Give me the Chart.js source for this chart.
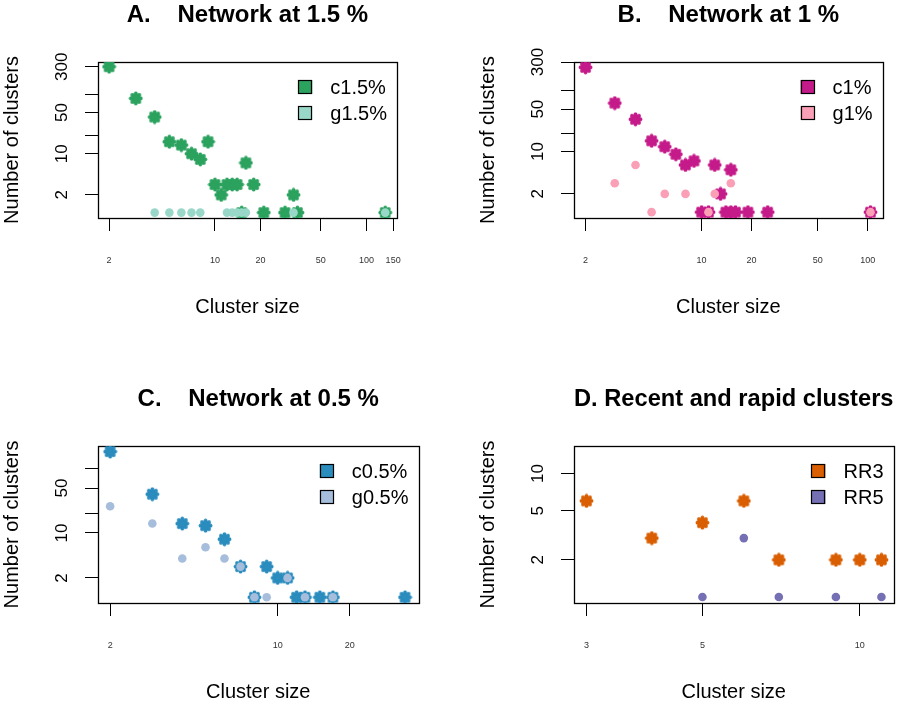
<!DOCTYPE html>
<html><head><meta charset="utf-8">
<script src="https://cdn.jsdelivr.net/npm/chart.js@4.4.0/dist/chart.umd.min.js"></script>
<style>
html,body{margin:0;padding:0;background:#fff;width:900px;height:702px;overflow:hidden;position:relative}
canvas{position:absolute}
</style></head><body>
<script>
// ---------- DATA ----------
const titleA = 'A.    Network at 1.5 %';
const labelsA = ['c1.5%', 'g1.5%'];
const sizesA_c = [2, 3, 4, 5, 6, 7, 8, 9, 10, 11, 12, 13, 14, 15, 16, 18, 21, 29, 33, 35, 133];
const countsA_c = [300, 87, 42, 16, 14, 10, 8, 16, 3, 2, 3, 3, 3, 1, 7, 3, 1, 1, 2, 1, 1];
const sizesA_g = [4, 5, 6, 7, 8, 12, 13, 14, 15, 16, 33, 133];
const countsA_g = [1, 1, 1, 1, 1, 1, 1, 1, 1, 1, 1, 1];
const xTicksA = [2, 10, 20, 50, 100, 150];
const yTicksA = [2, 10, 20, 50, 100, 300];
const yLabelsA = [2, 10, 50, 300];

const titleB = 'B.    Network at 1 %';
const labelsB = ['c1%', 'g1%'];
const sizesB_c = [2, 3, 4, 5, 6, 7, 8, 9, 12, 13, 15, 10, 11, 14, 15, 16, 19, 25, 104];
const countsB_c = [245, 63, 34, 15, 12, 9, 6, 7, 6, 2, 5, 1, 1, 1, 1, 1, 1, 1, 1];
const sizesB_g = [3, 4, 5, 6, 8, 11, 12, 15, 104];
const countsB_g = [3, 6, 1, 2, 2, 1, 2, 3, 1];
const xTicksB = [2, 10, 20, 50, 100];
const yTicksB = [2, 10, 20, 50, 100, 300];
const yLabelsB = [2, 10, 50, 300];

const titleC = 'C.    Network at 0.5 %';
const labelsC = ['c0.5%', 'g0.5%'];
const sizesC_c = [2, 3, 4, 5, 6, 7, 8, 9, 10, 11, 12, 13, 15, 17, 34];
const countsC_c = [184, 40, 14, 13, 8, 3, 1, 3, 2, 2, 1, 1, 1, 1, 1];
const sizesC_g = [2, 3, 4, 5, 6, 7, 8, 9, 11, 13, 17];
const countsC_g = [26, 14, 4, 6, 4, 3, 1, 1, 2, 1, 1];
const xTicksC = [2, 10, 20];
const yTicksC = [2, 10, 20, 50, 100];
const yLabelsC = [2, 10, 50];

const titleD = 'D. Recent and rapid clusters';
const labelsD = ['RR3', 'RR5'];
const sizesD_c = [3, 4, 5, 6, 7, 9, 10, 11];
const countsD_c = [6, 3, 4, 6, 2, 2, 2, 2];
const sizesD_g = [5, 6, 7, 9, 11];
const countsD_g = [1, 3, 1, 1, 1];
const xTicksD = [3, 5, 10];
const yTicksD = [2, 5, 10];
const yLabelsD = [2, 5, 10];

const xTitle = 'Cluster size';
const yTitle = 'Number of clusters';

// ---------- LAYOUT / STYLE ----------
const FONT = '"Liberation Sans", Arial, Helvetica, sans-serif';
const panels = [
  {title: titleA, labels: labelsA, xc: sizesA_c, yc: countsA_c, xg: sizesA_g, yg: countsA_g,
   xt: xTicksA, yt: yTicksA, yl: yLabelsA, left: 0, top: 0, w: 321, h: 156,
   xr: [1.69, 159], yr: [0.81, 361], cols: ['#2ca25f', '#99d8c9']},
  {title: titleB, labels: labelsB, xc: sizesB_c, yc: countsB_c, xg: sizesB_g, yg: countsB_g,
   xt: xTicksB, yt: yTicksB, yl: yLabelsB, left: 476, top: 0, w: 320, h: 156,
   xr: [1.705, 123], yr: [0.80, 300], cols: ['#c51b8a', '#fa9fb5']},
  {title: titleC, labels: labelsC, xc: sizesC_c, yc: countsC_c, xg: sizesC_g, yg: countsC_g,
   xt: xTicksC, yt: yTicksC, yl: yLabelsC, left: 0, top: 384, w: 321, h: 157,
   xr: [1.78, 38.7], yr: [0.815, 225], cols: ['#2b8cbe', '#a6bddb']},
  {title: titleD, labels: labelsD, xc: sizesD_c, yc: countsD_c, xg: sizesD_g, yg: countsD_g,
   xt: xTicksD, yt: yTicksD, yl: yLabelsD, left: 476, top: 384, w: 320, h: 157,
   xr: [2.84, 11.6], yr: [0.895, 16.7], cols: ['#d95f02', '#7570b3']}
];
const LM = 98, TM = 62, RM = 6, CH = 318;
const TICKLEN = 13;
const YLAB_FONT = 17;

function scallop(color) {
  const c = document.createElement('canvas');
  c.width = c.height = 15;
  const x = c.getContext('2d');
  x.fillStyle = color;
  x.beginPath(); x.arc(7.5, 7.5, 5.3, 0, 2 * Math.PI); x.fill();
  for (let k = 0; k < 8; k++) {
    const a = k * Math.PI / 4;
    x.beginPath(); x.arc(7.5 + 5.0 * Math.cos(a), 7.5 + 5.0 * Math.sin(a), 1.9, 0, 2 * Math.PI); x.fill();
  }
  return c;
}

const boxPlugin = {
  id: 'rbox',
  beforeDatasetsDraw(chart) {
    const {ctx, chartArea: a} = chart;
    ctx.save();
    ctx.strokeStyle = '#000';
    ctx.lineWidth = 1.3;
    ctx.strokeRect(Math.round(a.left) + 0.5, Math.round(a.top) + 0.5,
                   Math.round(a.right - a.left), Math.round(a.bottom - a.top));
    ctx.restore();
  }
};
const legendPlugin = {
  id: 'rlegend',
  afterDraw(chart) {
    const {ctx, chartArea: a} = chart;
    const ds = chart.data.datasets;
    ctx.save();
    ctx.font = '20px ' + FONT;
    const maxW = Math.max(...ds.map(d => ctx.measureText(d.label).width));
    const tx = a.right - 10 - maxW;
    ds.forEach((d, i) => {
      const cy = Math.round(a.top + 25 + i * 25.5);
      ctx.fillStyle = d.legendColor;
      ctx.fillRect(tx - 32, cy - 7, 14, 14);
      ctx.strokeStyle = '#000'; ctx.lineWidth = 1.2;
      ctx.strokeRect(Math.round(tx - 32) + 0.5, cy - 7 + 0.5, 13, 13);
      ctx.fillStyle = '#000'; ctx.textBaseline = 'middle'; ctx.textAlign = 'left';
      ctx.fillText(d.label, tx, cy + 1);
    });
    ctx.restore();
  }
};

const measureCtx = document.createElement('canvas').getContext('2d');
measureCtx.font = YLAB_FONT + 'px ' + FONT;

panels.forEach((p, idx) => {
  const cv = document.createElement('canvas');
  const W = LM + p.w + RM;
  cv.width = W; cv.height = CH;
  cv.style.left = p.left + 'px'; cv.style.top = p.top + 'px';
  cv.style.width = W + 'px'; cv.style.height = CH + 'px';
  document.body.appendChild(cv);

  const widest = Math.max(...p.yl.map(v => measureCtx.measureText(String(v)).width));
  const yPad = 36 - TICKLEN - widest / 2;
  const xAxisH = CH - TM - p.h;
  const xTitlePad = CH - (TM + p.h + 89) - 10;

  new Chart(cv, {
    type: 'scatter',
    data: {
      datasets: [
        {label: p.labels[0], data: p.xc.map((v, i) => ({x: v, y: p.yc[i]})),
         pointStyle: scallop(p.cols[0]), pointRadius: 6.5, backgroundColor: p.cols[0],
         legendColor: p.cols[0], borderWidth: 0, order: 2},
        {label: p.labels[1], data: p.xg.map((v, i) => ({x: v, y: p.yg[i]})),
         pointStyle: 'circle', pointRadius: 4.3, backgroundColor: p.cols[1],
         legendColor: p.cols[1], borderWidth: 0, order: 1}
      ]
    },
    options: {
      responsive: false, animation: false, events: [],
      layout: {padding: {left: 0, top: 0, right: RM, bottom: 0}},
      plugins: {
        legend: {display: false}, tooltip: {enabled: false},
        title: {display: true, text: p.title, fullSize: false, position: 'top', align: 'center',
                color: '#000', font: {family: FONT, size: 24, weight: 'bold', lineHeight: 1},
                padding: {top: 3, bottom: TM - 27}}
      },
      scales: {
        x: {
          type: 'logarithmic', position: 'bottom', min: p.xr[0], max: p.xr[1], bounds: 'data',
          afterBuildTicks: s => { s.ticks = p.xt.map(v => ({value: v})); },
          afterFit: s => { s.height = xAxisH; },
          ticks: {autoSkip: false, minRotation: 0, maxRotation: 0, padding: 24, color: '#333',
                  font: {family: FONT, size: 9}, callback: v => String(v)},
          grid: {display: true, drawOnChartArea: false, drawTicks: true, tickLength: TICKLEN,
                 color: '#000', tickColor: '#000', tickWidth: 1},
          border: {display: false},
          title: {display: true, text: xTitle, color: '#000', font: {family: FONT, size: 20, lineHeight: 1},
                  padding: {top: 0, bottom: xTitlePad}}
        },
        y: {
          type: 'logarithmic', position: 'left', min: p.yr[0], max: p.yr[1], bounds: 'data',
          afterBuildTicks: s => { s.ticks = p.yt.map(v => ({value: v})); },
          afterFit: s => { s.width = LM; },
          ticks: {autoSkip: false, minRotation: 90, maxRotation: 90, crossAlign: 'center',
                  padding: yPad, color: '#000', font: {family: FONT, size: YLAB_FONT},
                  callback: v => (p.yl.includes(v) ? String(v) : '')},
          grid: {display: true, drawOnChartArea: false, drawTicks: true, tickLength: TICKLEN,
                 color: '#000', tickColor: '#000', tickWidth: 1},
          border: {display: false},
          title: {display: true, text: yTitle, color: '#000', font: {family: FONT, size: 20, lineHeight: 1},
                  padding: {top: 2, bottom: 0}}
        }
      }
    },
    plugins: [boxPlugin, legendPlugin]
  });
});
</script>
</body></html>
